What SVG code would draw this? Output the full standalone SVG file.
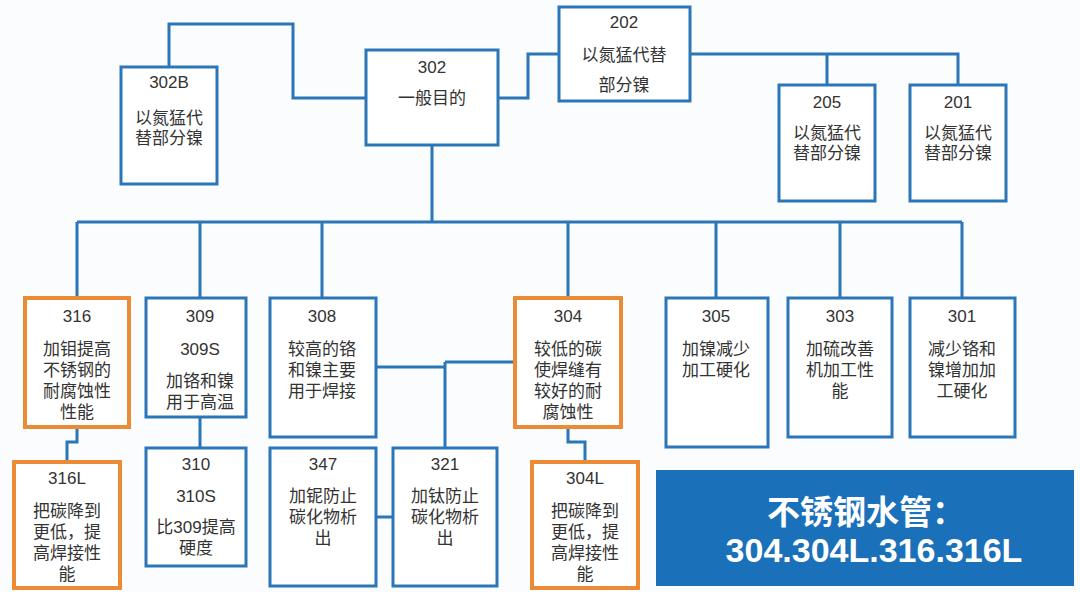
<svg xmlns="http://www.w3.org/2000/svg" width="1080" height="592" viewBox="0 0 1080 592">
<style>
.b{fill:#ffffff;stroke:#2A76B9;stroke-width:3}
.o{fill:#ffffff;stroke:#EC8B36;stroke-width:4}
.c{fill:none;stroke:#2A76B9;stroke-width:3}
text{font-family:"Liberation Sans","Noto Sans CJK SC",sans-serif;font-size:17px;fill:#333333;text-anchor:middle}
.w{fill:#ffffff;font-weight:bold}
</style>
<rect width="1080" height="592" fill="#FBFCFD"/>
<g id="connectors">
<path class="c" d="M169,67 V24 H293 V98 H366"/>
<path class="c" d="M498,98 H528 V54 H559"/>
<path class="c" d="M690,54 H958 V85 M827,54 V85"/>
<path class="c" d="M432,145 V222 M77,222 H962 M77,222 V298 M200,222 V298 M322,222 V298 M568,222 V298 M716,222 V298 M840,222 V298 M962,222 V298"/>
<path class="c" d="M77,427 V442 H67 V462"/>
<path class="c" d="M200,417 V448"/>
<path class="c" d="M376,367 H445 M445,362 V448 M445,362 H515"/>
<path class="c" d="M376,517 H393"/>
<path class="c" d="M568,427 V442 H585 V462"/>
</g>
<g id="n302B"><rect class="b" x="121" y="67" width="96" height="117"/><text x="169" y="88">302B<tspan x="169" y="124">以氮猛代</tspan><tspan x="169" y="144">替部分镍</tspan></text></g>
<g id="n302"><rect class="b" x="366" y="50" width="132" height="95"/><text x="432" y="73">302<tspan x="432" y="104">一般目的</tspan></text></g>
<g id="n202"><rect class="b" x="559" y="7" width="131" height="94"/><text x="624" y="28">202<tspan x="624" y="61">以氮猛代替</tspan><tspan x="624" y="91">部分镍</tspan></text></g>
<g id="n205"><rect class="b" x="779" y="85" width="96" height="116"/><text x="827" y="108">205<tspan x="827" y="139">以氮猛代</tspan><tspan x="827" y="159">替部分镍</tspan></text></g>
<g id="n201"><rect class="b" x="910" y="85" width="96" height="116"/><text x="958" y="108">201<tspan x="958" y="139">以氮猛代</tspan><tspan x="958" y="159">替部分镍</tspan></text></g>
<g id="n316"><rect class="o" x="25" y="298" width="104" height="129"/><text x="77" y="322">316<tspan x="77" y="355">加钼提高</tspan><tspan x="77" y="376">不锈钢的</tspan><tspan x="77" y="397">耐腐蚀性</tspan><tspan x="77" y="418">性能</tspan></text></g>
<g id="n309"><rect class="b" x="146" y="298" width="100" height="119"/><text x="200" y="322">309<tspan x="200" y="355">309S</tspan><tspan x="200" y="387">加铬和镍</tspan><tspan x="200" y="408">用于高温</tspan></text></g>
<g id="n308"><rect class="b" x="270" y="298" width="106" height="139"/><text x="322" y="322">308<tspan x="322" y="355">较高的铬</tspan><tspan x="322" y="376">和镍主要</tspan><tspan x="322" y="397">用于焊接</tspan></text></g>
<g id="n304"><rect class="o" x="515" y="298" width="106" height="129"/><text x="568" y="322">304<tspan x="568" y="355">较低的碳</tspan><tspan x="568" y="376">使焊缝有</tspan><tspan x="568" y="397">较好的耐</tspan><tspan x="568" y="418">腐蚀性</tspan></text></g>
<g id="n305"><rect class="b" x="666" y="298" width="102" height="149"/><text x="716" y="322">305<tspan x="716" y="355">加镍减少</tspan><tspan x="716" y="376">加工硬化</tspan></text></g>
<g id="n303"><rect class="b" x="788" y="298" width="104" height="139"/><text x="840" y="322">303<tspan x="840" y="355">加硫改善</tspan><tspan x="840" y="376">机加工性</tspan><tspan x="840" y="397">能</tspan></text></g>
<g id="n301"><rect class="b" x="910" y="298" width="105" height="139"/><text x="962" y="322">301<tspan x="962" y="355">减少铬和</tspan><tspan x="962" y="376">镍增加加</tspan><tspan x="962" y="397">工硬化</tspan></text></g>
<g id="n316L"><rect class="o" x="14" y="462" width="106" height="126"/><text x="67" y="484">316L<tspan x="67" y="517">把碳降到</tspan><tspan x="67" y="538">更低，提</tspan><tspan x="67" y="559">高焊接性</tspan><tspan x="67" y="580">能</tspan></text></g>
<g id="n310"><rect class="b" x="146" y="448" width="100" height="118"/><text x="196" y="470">310<tspan x="196" y="502">310S</tspan><tspan x="196" y="533">比309提高</tspan><tspan x="196" y="554">硬度</tspan></text></g>
<g id="n347"><rect class="b" x="270" y="448" width="106" height="138"/><text x="323" y="470">347<tspan x="323" y="502">加铌防止</tspan><tspan x="323" y="523">碳化物析</tspan><tspan x="323" y="544">出</tspan></text></g>
<g id="n321"><rect class="b" x="393" y="448" width="104" height="138"/><text x="445" y="470">321<tspan x="445" y="502">加钛防止</tspan><tspan x="445" y="523">碳化物析</tspan><tspan x="445" y="544">出</tspan></text></g>
<g id="n304L"><rect class="o" x="532" y="462" width="106" height="126"/><text x="585" y="484">304L<tspan x="585" y="517">把碳降到</tspan><tspan x="585" y="538">更低，提</tspan><tspan x="585" y="559">高焊接性</tspan><tspan x="585" y="580">能</tspan></text></g>
<g id="summary"><rect x="656" y="470" width="418" height="116" fill="#1B70BA"/><text class="w" x="866" y="524" style="font-size:33px">不锈钢水管：<tspan x="874" y="562" style="font-size:34px">304.304L.316.316L</tspan></text></g>
</svg>
